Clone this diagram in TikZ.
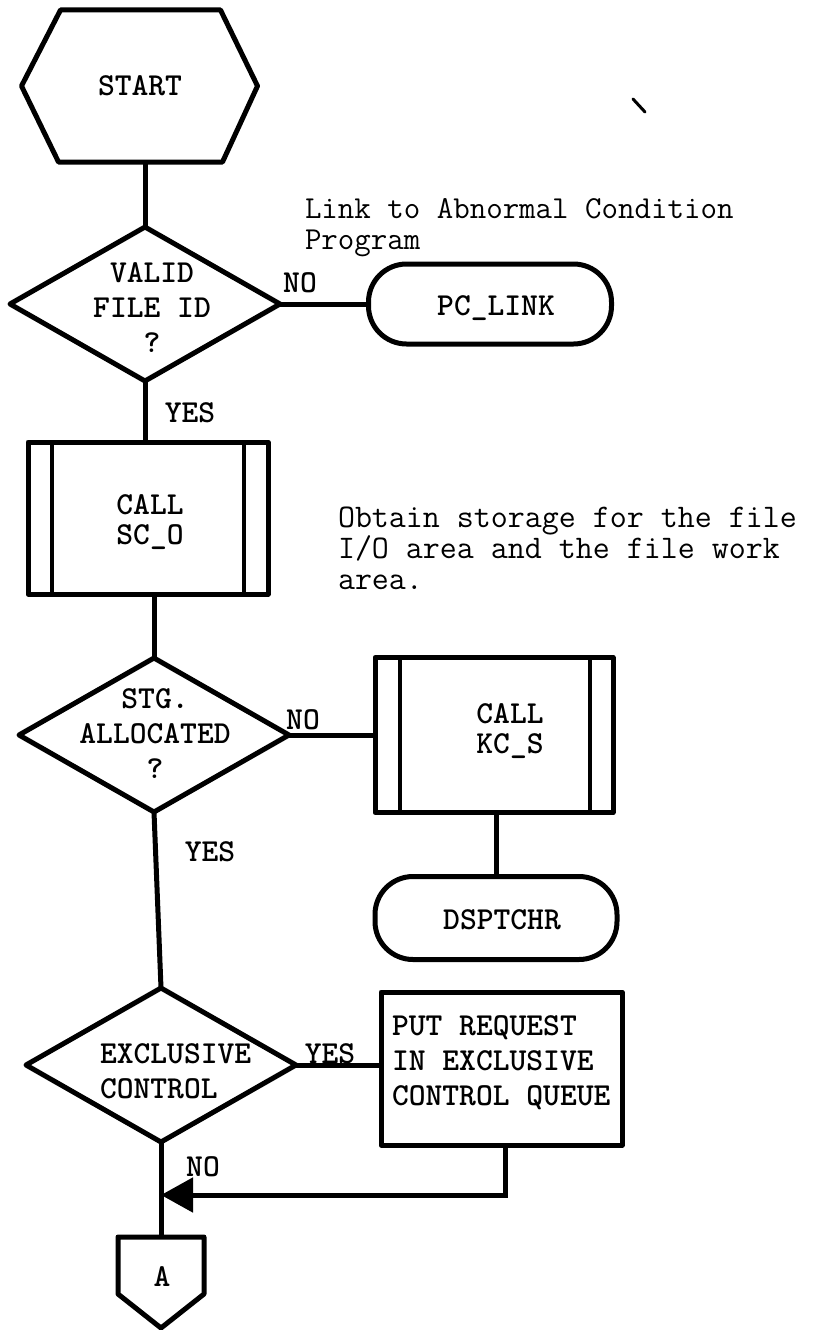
\documentclass[tikz,border=0pt]{standalone}
\usepackage{fontspec}
\usetikzlibrary{shapes.geometric,arrows.meta,calc}

\begin{document}
\begin{tikzpicture}[x=1pt,y=-1pt,
  every node/.style={inner sep=0pt, outer sep=0pt},
  lbl/.style={font=\ttfamily\bfseries\fontsize{32}{35}\selectfont, align=center},
  lblleft/.style={font=\ttfamily\bfseries\fontsize{32}{35}\selectfont, align=left, anchor=west},
  note/.style={font=\ttfamily\fontsize{33}{31}\selectfont, align=left, anchor=west},
  outline/.style={draw, line width=5pt, line join=round},
  wire/.style={line width=5pt},
  decision/.style={outline, shape=diamond, minimum width=270pt, minimum height=154pt},
  terminal/.style={outline, rectangle, rounded corners=38pt, minimum width=243pt, minimum height=80pt},
  procbox/.style={outline, rectangle, minimum width=240pt, minimum height=153pt},
  sideline/.style={line width=3.5pt}
]
\useasboundingbox (0,0) rectangle (827,1330);

% start symbol (hexagon)
\node[rectangle, minimum width=236pt, minimum height=152pt] (start) at (139.5,86) {};
\draw[outline] (start.west) -- ($(start.north west)+(39,0)$) -- ($(start.north east)+(-37,0)$)
  -- (start.east) -- ($(start.south east)+(-35,0)$) -- ($(start.south west)+(37,0)$) -- cycle;
\node[lbl] at (140,86) {START};

% file id check
\node[decision] (d1) at (145,304) {};
\node[lbl] at (152,308) {VALID\\FILE ID\\?};
\node[lbl] (no1) at (300,283) {NO};
\node[terminal] (pclink) at (490,304) {};
\node[lbl] at (496,308) {PC\_LINK};
\node[note, font=\ttfamily\fontsize{32}{31}\selectfont] (linknote) at (305,228) {Link to Abnormal Condition\\Program};

% storage request
\node[lbl] (yes1) at (190,413) {YES};
\node[procbox, minimum width=240pt, minimum height=152pt] (sco) at (148,518) {};
\draw[sideline] ([xshift=24pt]sco.north west) -- ([xshift=24pt]sco.south west);
\draw[sideline] ([xshift=-24pt]sco.north east) -- ([xshift=-24pt]sco.south east);
\node[lbl, font=\ttfamily\bfseries\fontsize{32}{30}\selectfont] at (150,522) {CALL\\SC\_O};
\node[note] (obtain) at (338,548) {Obtain storage for the file\\I/O area and the file work\\area.};

% storage allocated check
\node[decision] (d2) at (154,735) {};
\node[lbl] at (155,734) {STG.\\ALLOCATED\\?};
\node[lbl] (no2) at (303,720) {NO};
\node[procbox, minimum width=238pt, minimum height=155pt] (kcs) at (494,735) {};
\draw[sideline] ([xshift=25pt]kcs.north west) -- ([xshift=25pt]kcs.south west);
\draw[sideline] ([xshift=-23pt]kcs.north east) -- ([xshift=-23pt]kcs.south east);
\node[lbl, font=\ttfamily\bfseries\fontsize{32}{30}\selectfont] at (510,731) {CALL\\KC\_S};
\node[terminal, minimum width=242pt, minimum height=83pt] (dsp) at (496,918) {};
\node[lbl] at (502,920) {DSPTCHR};
\node[lbl] (yes2) at (210,852) {YES};

% exclusive control check
\node[decision] (d3) at (161,1065) {};
\node[lblleft] at (100,1071) {EXCLUSIVE\\CONTROL};
\node[lbl] (yes3) at (330,1054) {YES};
\node[procbox, minimum width=241pt, minimum height=153pt] (put) at (501.5,1068.5) {};
\node[lblleft] at (392,1063) {PUT REQUEST\\IN EXCLUSIVE\\CONTROL QUEUE};
\node[lbl] (no3) at (203,1167) {NO};

% off-page connector
\node[rectangle, minimum width=86pt, minimum height=91pt] (conA) at (161,1282.5) {};
\draw[outline] (conA.north west) -- (conA.north east) -- ($(conA.south east)+(0,-34)$)
  -- (conA.south) -- ($(conA.south west)+(0,-34)$) -- cycle;
\node[lbl] at (162,1277) {A};
\coordinate (merge) at (161,1195);

% connectors
\draw[wire] (start.south -| d1.north) -- (d1.north);
\draw[wire] (d1.east) -- (pclink.west);
\draw[wire] (d1.south) -- (d1.south |- sco.north);
\draw[wire] (sco.south -| d2.north) -- (d2.north);
\draw[wire] (d2.east) -- (kcs.west |- d2.east);
\draw[wire] (kcs.south -| dsp.north) -- (dsp.north);
\draw[wire] (d2.south) -- (d3.north);
\draw[wire] (d3.east) -- (put.west |- d3.east);
\draw[wire] (d3.south) -- (conA.north);
\draw[wire, -{Triangle[length=32pt,width=34pt]}] ([xshift=4pt]put.south) |- (merge);

% stray pen stroke
\draw[line width=3pt, line cap=round] (633,99) -- (645,112);
\end{tikzpicture}
\end{document}
